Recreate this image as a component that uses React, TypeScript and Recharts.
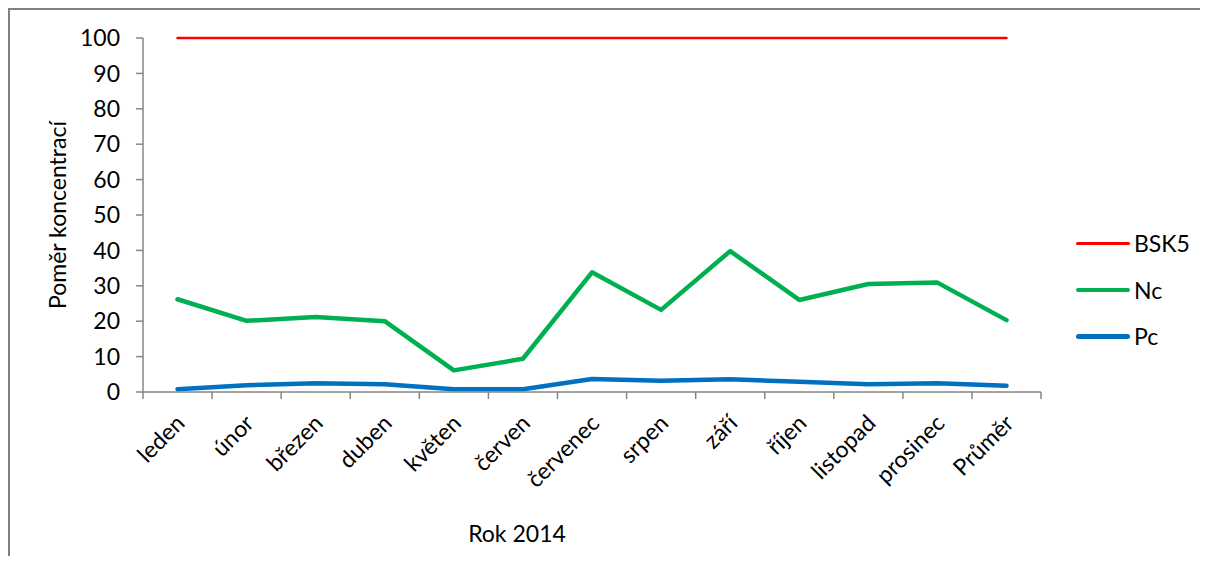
import React from 'react';
import { LineChart, Line, XAxis, YAxis, Legend, Label } from 'recharts';

const months = ['leden', 'únor', 'březen', 'duben', 'květen', 'červen', 'červenec', 'srpen', 'září', 'říjen', 'listopad', 'prosinec', 'Průměr'];
const bsk5 = [100, 100, 100, 100, 100, 100, 100, 100, 100, 100, 100, 100, 100];
const nc = [26.2, 20.1, 21.2, 20.0, 6.1, 9.4, 33.8, 23.2, 39.8, 26.0, 30.5, 30.9, 20.3];
const pc = [0.8, 1.9, 2.5, 2.2, 0.8, 0.8, 3.7, 3.2, 3.6, 2.9, 2.2, 2.5, 1.8];
const yTicks = [0, 10, 20, 30, 40, 50, 60, 70, 80, 90, 100];

const series = [
  { key: 'BSK5', color: '#ff0000', width: 2.5 },
  { key: 'Nc', color: '#00b050', width: 4.5 },
  { key: 'Pc', color: '#0070c0', width: 4.5 },
];

const data = months.map((m, i) => ({ month: m, BSK5: bsk5[i], Nc: nc[i], Pc: pc[i] }));

const FONT = 'Lato, "Open Sans", sans-serif';
const FONT_SIZE = 23;
const AXIS = '#868686';
const HALF_STEP = 34.5;

// category label rotated 45°, with tick marks between categories
const MonthTick = (props: any) => {
  const { x, y, payload, index } = props;
  const last = index === months.length - 1;
  return (
    <g>
      <line x1={x - HALF_STEP} y1={y} x2={x - HALF_STEP} y2={y + 7} stroke={AXIS} strokeWidth={1.5} />
      {last && <line x1={x + HALF_STEP} y1={y} x2={x + HALF_STEP} y2={y + 7} stroke={AXIS} strokeWidth={1.5} />}
      <text
        transform={`translate(${x + 3}, ${y + 27}) rotate(-45)`}
        textAnchor="end"
        dy="0.35em"
        fontSize={FONT_SIZE}
        fontFamily={FONT}
        fill="#000"
      >
        {payload.value}
      </text>
    </g>
  );
};

const LegendBox = () => (
  <div style={{ fontFamily: FONT, fontSize: FONT_SIZE, color: '#000' }}>
    {series.map((s) => (
      <div key={s.key} style={{ display: 'flex', alignItems: 'center', height: 46.5 }}>
        <span
          style={{
            display: 'inline-block',
            width: 54,
            height: s.width,
            background: s.color,
            borderRadius: 3,
            marginRight: 4,
          }}
        />
        <span>{s.key}</span>
      </div>
    ))}
  </div>
);

export default function App() {
  return (
    <div
      style={{
        width: 1198,
        height: 546,
        overflow: 'hidden',
        borderTop: '2px solid #7f7f7f',
        borderLeft: '2px solid #7f7f7f',
      }}
    >
      <LineChart width={1198} height={546} data={data} margin={{ top: 28, right: 167, bottom: 0, left: 0 }}>
        <XAxis
          dataKey="month"
          height={164}
          padding={{ left: HALF_STEP, right: HALF_STEP }}
          stroke={AXIS}
          strokeWidth={1.5}
          tickLine={false}
          tickSize={0}
          tickMargin={0}
          interval={0}
          tick={<MonthTick />}
        >
          <Label
            content={(p: any) => (
              <text
                x={p.viewBox.x + 374}
                y={p.viewBox.y + 150}
                textAnchor="middle"
                fontSize={FONT_SIZE}
                fontFamily={FONT}
                fill="#000"
              >
                Rok 2014
              </text>
            )}
          />
        </XAxis>
        <YAxis
          width={133}
          domain={[0, 100]}
          ticks={yTicks}
          interval={0}
          stroke={AXIS}
          strokeWidth={1.5}
          tickSize={7}
          tickMargin={16}
          tick={{ fontSize: FONT_SIZE, fontFamily: FONT, fill: '#000' }}
        >
          <Label
            content={(p: any) => {
              const cy = p.viewBox.y + p.viewBox.height / 2;
              return (
                <text
                  transform={`translate(48, ${cy}) rotate(-90)`}
                  textAnchor="middle"
                  dy="0.35em"
                  fontSize={FONT_SIZE}
                  fontFamily={FONT}
                  fill="#000"
                >
                  Poměr koncentrací
                </text>
              );
            }}
          />
        </YAxis>
        <Legend
          layout="vertical"
          align="center"
          verticalAlign="middle"
          wrapperStyle={{ left: 1066, top: 210, width: 130 }}
          content={() => <LegendBox />}
        />
        {series.map((s) => (
          <Line
            key={s.key}
            type="linear"
            dataKey={s.key}
            stroke={s.color}
            strokeWidth={s.width}
            strokeLinecap="round"
            strokeLinejoin="round"
            dot={false}
            activeDot={false}
            isAnimationActive={false}
          />
        ))}
      </LineChart>
    </div>
  );
}
